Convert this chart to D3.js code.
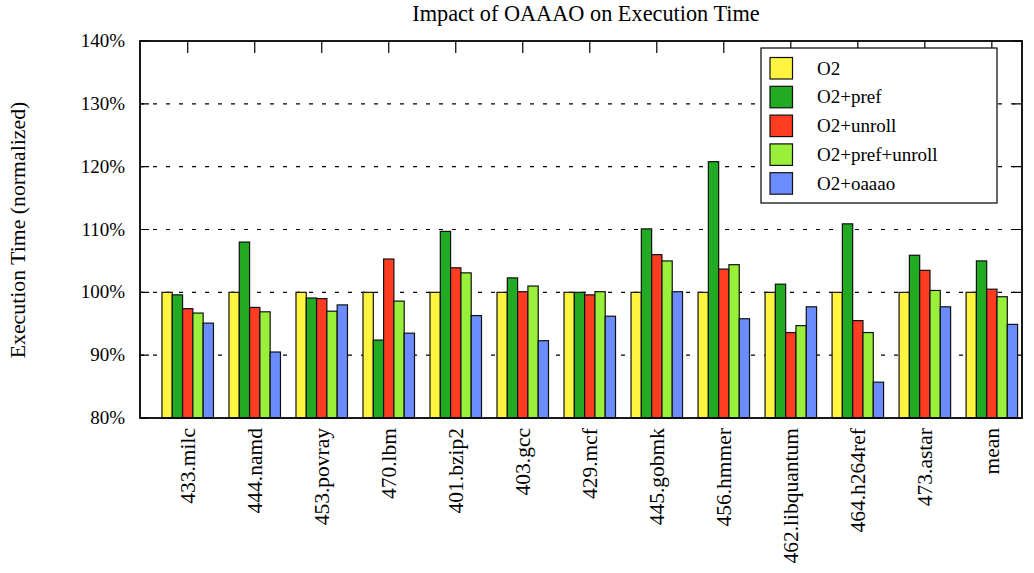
<html>
  <meta charset="utf-8" />
  <script src="https://d3js.org/d3.v7.min.js"></script>
  <style>
    body { margin: 0; background: #fff; }
    text { font-family: "Liberation Serif", "Times New Roman", serif; fill: #000; }
  </style>
  <body>
    <svg width="1034" height="573" id="chart"></svg>
  </body>
  <script>
    const benchmarks = ["433.milc", "444.namd", "453.povray", "470.lbm", "401.bzip2", "403.gcc",
      "429.mcf", "445.gobmk", "456.hmmer", "462.libquantum", "464.h264ref", "473.astar", "mean"];
    const seriesNames = ["O2", "O2+pref", "O2+unroll", "O2+pref+unroll", "O2+oaaao"];
    const seriesColors = ["#fff540", "#22aa22", "#ff3b22", "#99f03a", "#6a8cff"];

    const o2 = [100, 100, 100, 100, 100, 100, 100, 100, 100, 100, 100, 100, 100];
    const o2Pref = [99.6, 108.0, 99.1, 92.4, 109.7, 102.3, 100.0, 110.1, 120.8, 101.3, 110.9, 105.9, 105.0];
    const o2Unroll = [97.4, 97.6, 99.0, 105.3, 103.9, 100.1, 99.6, 106.0, 103.7, 93.6, 95.5, 103.5, 100.5];
    const o2PrefUnroll = [96.7, 96.9, 97.0, 98.6, 103.1, 101.0, 100.1, 105.0, 104.4, 94.7, 93.6, 100.3, 99.3];
    const o2Oaaao = [95.1, 90.5, 98.0, 93.5, 96.3, 92.3, 96.2, 100.1, 95.8, 97.7, 85.7, 97.7, 94.9];
    const yTicks = [80, 90, 100, 110, 120, 130, 140];

    const allSeries = [o2, o2Pref, o2Unroll, o2PrefUnroll, o2Oaaao];

    const svg = d3.select("#chart");
    const pLeft = 140, pRight = 1022, pTop = 41, pBottom = 418;

    const x = d3.scaleLinear().domain([-0.712, 12.45]).range([pLeft, pRight]);
    const y = d3.scaleLinear().domain([80, 140]).range([pBottom, pTop]);
    const barW = 10.3;

    // grid
    svg.append("g")
      .selectAll("line")
      .data(yTicks.slice(1, -1))
      .enter()
      .append("line")
      .attr("x1", pLeft).attr("x2", pRight)
      .attr("y1", (d) => y(d)).attr("y2", (d) => y(d))
      .attr("stroke", "#000").attr("stroke-width", 1.1)
      .attr("stroke-dasharray", "4,9");

    // tick marks
    svg.append("g")
      .selectAll("path")
      .data(yTicks)
      .enter()
      .append("path")
      .attr("d", (d) => `M${pLeft},${y(d)}h9M${pRight},${y(d)}h-9`)
      .attr("stroke", "#000").attr("stroke-width", 1.2);

    svg.append("g")
      .selectAll("line")
      .data(benchmarks)
      .enter()
      .append("line")
      .attr("x1", (d, i) => x(i)).attr("x2", (d, i) => x(i))
      .attr("y1", pTop).attr("y2", pTop + 12)
      .attr("stroke", "#000").attr("stroke-width", 1.2);

    // bars
    allSeries.forEach((vals, k) => {
      svg.append("g")
        .selectAll("rect")
        .data(vals)
        .enter()
        .append("rect")
        .attr("x", (d, i) => x(i) + (k - 2.5) * barW)
        .attr("y", (d) => y(d))
        .attr("width", barW)
        .attr("height", (d) => pBottom - y(d))
        .attr("fill", seriesColors[k])
        .attr("stroke", "#111")
        .attr("stroke-width", 1.2);
    });

    // frame
    svg.append("rect")
      .attr("x", pLeft).attr("y", pTop)
      .attr("width", pRight - pLeft).attr("height", pBottom - pTop)
      .attr("fill", "none").attr("stroke", "#000").attr("stroke-width", 1.8);

    // y labels
    svg.append("g")
      .selectAll("text")
      .data(yTicks)
      .enter()
      .append("text")
      .attr("x", 125)
      .attr("y", (d) => y(d) + 6)
      .attr("text-anchor", "end")
      .attr("font-size", 19)
      .text((d) => d + "%");

    // x labels
    svg.append("g")
      .selectAll("text")
      .data(benchmarks)
      .enter()
      .append("text")
      .attr("transform", (d, i) => `translate(${x(i) + 7},428) rotate(-90)`)
      .attr("text-anchor", "end")
      .attr("font-size", 21.5)
      .text((d) => d);

    svg.append("text")
      .attr("transform", "translate(25,230) rotate(-90)")
      .attr("text-anchor", "middle")
      .attr("font-size", 21.8)
      .text("Execution Time (normalized)");

    svg.append("text")
      .attr("x", 586).attr("y", 21)
      .attr("text-anchor", "middle")
      .attr("font-size", 22.3)
      .text("Impact of OAAAO on Execution Time");

    // legend
    const lg = svg.append("g");
    lg.append("rect")
      .attr("x", 761).attr("y", 48)
      .attr("width", 236).attr("height", 155)
      .attr("fill", "#fff").attr("stroke", "#000").attr("stroke-width", 1.2);
    const rows = lg.selectAll("g.row")
      .data(seriesNames)
      .enter()
      .append("g")
      .attr("transform", (d, i) => `translate(770,${57.5 + i * 28.8})`);
    rows.append("rect")
      .attr("width", 22.5).attr("height", 21.5)
      .attr("fill", (d, i) => seriesColors[i])
      .attr("stroke", "#111").attr("stroke-width", 1.2);
    rows.append("text")
      .attr("x", 47).attr("y", 17)
      .attr("font-size", 19)
      .text((d) => d);
  </script>
</html>
